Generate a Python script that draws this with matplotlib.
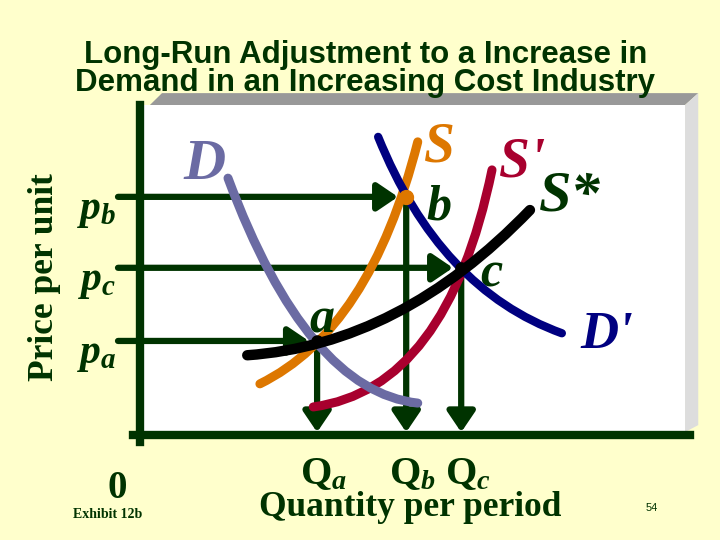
import matplotlib.pyplot as plt
from matplotlib.path import Path
from matplotlib.patches import PathPatch, FancyArrowPatch, Rectangle, Polygon

plt.rcParams['mathtext.fontset'] = 'custom'
plt.rcParams['mathtext.it'] = 'Liberation Serif:italic:bold'
plt.rcParams['mathtext.rm'] = 'Liberation Serif:bold'
plt.rcParams['mathtext.bf'] = 'Liberation Serif:bold'

BG = '#FFFFCC'
GREEN = '#003300'

# price levels and quantities
price_labels = [r'$p_b$', r'$p_c$', r'$p_a$']
price_levels = [4.33, 3.04, 1.71]
qty_labels = [r'$\mathrm{Q}_a$', r'$\mathrm{Q}_b$', r'$\mathrm{Q}_c$']
qty_levels = [3.22, 4.84, 5.84]
# equilibrium points a, b, c
point_names = ['a', 'b', 'c']
point_q = [3.22, 4.84, 5.84]
point_p = [1.71, 4.33, 3.04]

# curves as quadratic bezier: start, control, end
d_x = [1.60, 3.04, 5.05]
d_y = [4.67, 0.80, 0.58]
d2_x = [4.33, 5.45, 7.67]
d2_y = [5.42, 2.65, 1.85]
s_x = [2.18, 4.18, 5.05]
s_y = [0.93, 1.91, 5.33]
s2_x = [3.15, 5.58, 6.40]
s2_y = [0.51, 0.84, 4.82]
slr_x = [1.95, 4.73, 7.09]
slr_y = [1.45, 1.64, 4.09]

fig = plt.figure(figsize=(7.2, 5.4), dpi=100, facecolor=BG)
ax = fig.add_axes([140/720, 105/540, 550/720, 330/540])
ax.set_xlim(0, 10)
ax.set_ylim(0, 6)
ax.patch.set_visible(False)
ax.set_xticks([])
ax.set_yticks([])
for side in ['top', 'right']:
    ax.spines[side].set_visible(False)
for side in ['left', 'bottom']:
    ax.spines[side].set_linewidth(6)
    ax.spines[side].set_color(GREEN)
    ax.spines[side].set_zorder(6)
ax.spines['left'].set_bounds(-0.13, 6)
ax.spines['bottom'].set_bounds(-0.13, 10)

# white board with a gray 3d edge
ax.add_patch(Rectangle((0, 0), 0.991, 1.0, transform=ax.transAxes,
                       facecolor='white', edgecolor='none', zorder=0, clip_on=False))
ax.add_patch(Polygon([(0.018, 1.0), (0.04, 1.036), (1.015, 1.036), (0.991, 1.0)],
                     transform=ax.transAxes, facecolor='#999999', edgecolor='none',
                     zorder=0, clip_on=False))
ax.add_patch(Polygon([(0.991, 1.0), (1.015, 1.036), (1.015, 0.030), (0.991, 0.009)],
                     transform=ax.transAxes, facecolor='#DDDDDD', edgecolor='none',
                     zorder=0, clip_on=False))

style = '-|>,head_length=0.62,head_width=0.42'
for q, p in zip(point_q, point_p):
    h = FancyArrowPatch((-0.4, p), (q - 0.15, p), arrowstyle=style, mutation_scale=20,
                        lw=4.5, color=GREEN, shrinkA=0, shrinkB=0, clip_on=False, zorder=2)
    v = FancyArrowPatch((q, p), (q, 0.05), arrowstyle=style, mutation_scale=20,
                        lw=4.5, color=GREEN, shrinkA=0, shrinkB=0, clip_on=False, zorder=2)
    ax.add_patch(h)
    ax.add_patch(v)

def curve(xs, ys, color, lw=6.5, z=3):
    path = Path(list(zip(xs, ys)), [Path.MOVETO, Path.CURVE3, Path.CURVE3])
    ax.add_patch(PathPatch(path, fill=False, edgecolor=color, lw=lw,
                           capstyle='round', zorder=z))

curve(s_x, s_y, '#DD7700', z=3)
curve(s2_x, s2_y, '#A8002E', z=3)
curve(d_x, d_y, '#6B6BA3', z=4)
curve(d2_x, d2_y, '#000080', lw=6, z=4)
curve(slr_x, slr_y, 'black', lw=7.5, z=5)

ax.plot(point_q[1], point_p[1], 'o', color='#DD7700', ms=10, zorder=5)
ax.plot([point_q[0], point_q[2]], [point_p[0], point_p[2]], 'o', color='black', ms=8, zorder=5)

serif = 'Liberation Serif'
big = dict(family=serif, style='italic', weight='bold', ha='center', va='center')
ax.text(1.18, 4.91, 'D', color='#6B6BA3', fontsize=42, **big)
ax.text(5.45, 5.22, 'S', color='#DD7700', fontsize=40, **big)
ax.text(6.95, 4.95, "S'", color='#A8002E', fontsize=40, **big)
ax.text(7.82, 4.33, 'S*', color=GREEN, fontsize=42, **big)
ax.text(8.49, 1.82, "D'", color='#000080', fontsize=38, **big)
label_dx = [0.09, 0.6, 0.55]
label_dy = [0.38, -0.2, -0.12]
for name, q, p, dx, dy in zip(point_names, point_q, point_p, label_dx, label_dy):
    ax.text(q + dx, p + dy, name, color=GREEN, fontsize=36, **big)

for lab, p in zip(price_labels, price_levels):
    ax.text(-0.78, p - 0.22, lab, color=GREEN, fontsize=30, ha='center', va='center')
for lab, q in zip(qty_labels, qty_levels):
    ax.text(q + 0.12, -0.33, lab, color=GREEN, fontsize=29, ha='center', va='top')

title_kw = dict(family='Liberation Sans', weight='bold', fontsize=22.5, color=GREEN,
                ha='center', va='center')
fig.text(366/720, 1 - 55/540, 'Long-Run Adjustment to a Increase in', **title_kw)
fig.text(365/720, 1 - 83/540, 'Demand in an Increasing Cost Industry', **title_kw)
fig.text(45/720, 1 - 277/540, 'Price per unit', family=serif, weight='bold', fontsize=25.5,
         color=GREEN, rotation=90, ha='center', va='center')
fig.text(410/720, 1 - 507/540, 'Quantity per period', family=serif, weight='bold', fontsize=25.5,
         color=GREEN, ha='center', va='center')
fig.text(117/720, 1 - 488/540, '0', family=serif, weight='bold', fontsize=28,
         color=GREEN, ha='center', va='center')
fig.text(108/720, 1 - 514/540, 'Exhibit 12b', family=serif, weight='bold', fontsize=10,
         color=GREEN, ha='center', va='center')
fig.text(652/720, 1 - 508/540, '54', family='Liberation Sans', fontsize=8,
         color=GREEN, ha='center', va='center')

fig.savefig('out.png', dpi=100, facecolor=BG)
